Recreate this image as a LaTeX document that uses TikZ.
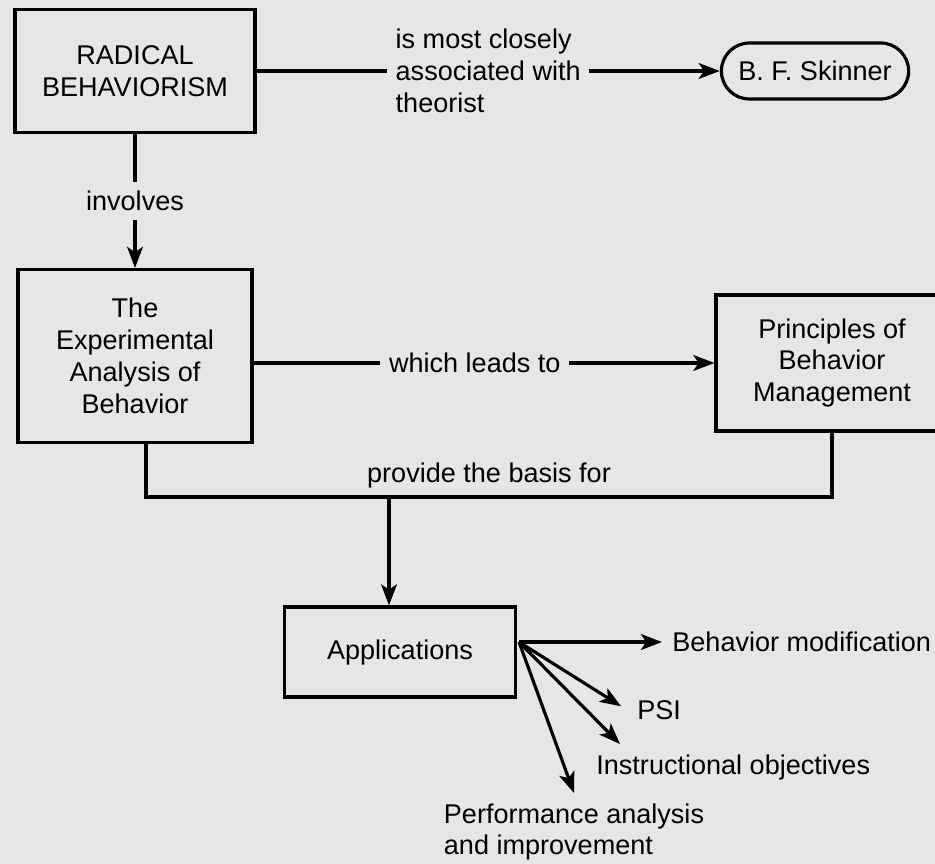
\documentclass[tikz,border=0pt]{standalone}
\usepackage{fontspec}
\setmainfont{Liberation Sans}
\usetikzlibrary{arrows.meta,shapes.misc}
\definecolor{paper}{RGB}{230,230,228}
\begin{document}
\begin{tikzpicture}[x=0.02cm,y=-0.02cm,
      font=\fontsize{15.4}{18.2}\selectfont,
      line width=1.8pt,
      box/.style={draw,rectangle,align=center,inner sep=0pt},
      lbl/.style={fill=paper,inner sep=5pt},
      arr/.style={-{Stealth[length=12pt,width=9pt,inset=3pt]}}]
      \fill[paper] (0,0) rectangle (935,864);
      \useasboundingbox (0,0) rectangle (935,864);
      % concepts
      \node[box,minimum width=4.8cm,minimum height=2.46cm] (radical) at (135,71) {RADICAL\\BEHAVIORISM};
      \node[draw,rounded rectangle,minimum width=3.98cm,minimum height=1.12cm] (skinner) at (815,71) {B. F. Skinner};
      \node[box,minimum width=4.68cm,minimum height=3.46cm] (eab) at (135,356) {The\\Experimental\\Analysis of\\Behavior};
      \node[box,minimum width=4.64cm,minimum height=2.72cm] (pbm) at (832,363) {Principles of\\Behavior\\Management};
      \node[box,minimum width=4.62cm,minimum height=1.8cm] (apps) at (400,652) {Applications};
      \path (519,642) coordinate (fan);
      \path (389,497) coordinate (basis);
      \node[anchor=west,inner sep=5pt] (behmod) at (662,642) {Behavior modification};
      \node[anchor=west,inner sep=5pt] (psi) at (627,710) {PSI};
      \node[anchor=west,inner sep=5pt] (instr) at (586,767) {Instructional objectives};
      \node[align=left,inner sep=5pt] (perf) at (574,832) {Performance analysis\\and improvement};
      % links
      \draw[arr] (radical) -- node[lbl,align=left] {is most closely\\associated with\\theorist} (skinner);
      \draw[arr] (radical.south) -- node[lbl] {involves} (eab.north);
      \draw[arr] (eab.east |- pbm.west) -- node[lbl,pos=0.48] {which leads to} (pbm.west);
      \draw ([xshift=0.22cm]eab.south) -- ([xshift=0.22cm]eab.south |- basis)
            -- node[above,inner sep=4pt] {provide the basis for} (pbm.south |- basis) -- (pbm.south);
      \draw[arr] (basis) -- (basis |- apps.north);
      \draw[arr] (fan) -- (behmod.west);
      \draw[arr,shorten >=4pt] (fan) -- (psi.west);
      \draw[arr] (fan) -- ([xshift=0.68cm]instr.north west);
      \draw[arr] (fan) -- (perf.north);
     \end{tikzpicture}
\end{document}
